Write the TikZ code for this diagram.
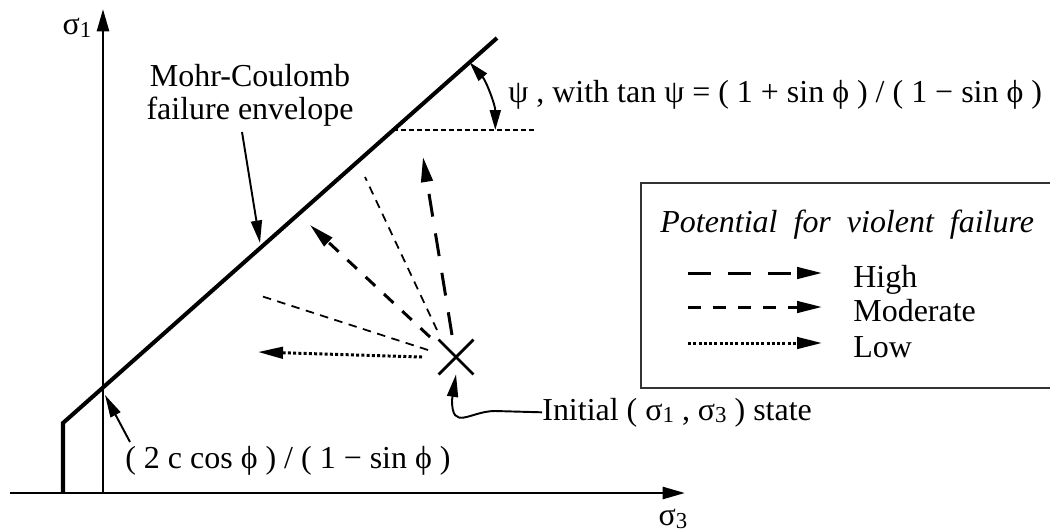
\documentclass[tikz,border=0pt]{standalone}
\usepackage{fontspec}
\setmainfont{Liberation Serif}
\usetikzlibrary{arrows.meta, positioning, calc, shapes.misc}
\newcommand\sgsub[1]{σ\raisebox{-0.2ex}{\fontsize{13}{13}\selectfont #1}}
\tikzset{
	axis/.style     ={line width=1.6pt, -{Triangle[length=4.5mm, width=2.4mm]}},
	envelope/.style ={line width=2.3pt, line join=miter},
	leader/.style   ={line width=1.1pt, -{Triangle[length=4.5mm, width=2.2mm]}},
	high/.style     ={line width=1.7pt, dash pattern=on 0.46cm off 0.34cm, -{Triangle[length=5mm, width=2.3mm]}},
	moderate/.style ={line width=1.7pt, dash pattern=on 0.26cm off 0.24cm, -{Triangle[length=5mm, width=2.3mm]}},
	low/.style      ={line width=1.7pt, dash pattern=on 0.06cm off 0.045cm, -{Triangle[length=5mm, width=2.3mm]}},
	guide/.style    ={line width=1pt, dash pattern=on 0.17cm off 0.13cm},
	level/.style    ={line width=0.6pt, dash pattern=on 0.09cm off 0.07cm},
	txt/.style      ={inner sep=0pt, font=\fontsize{18.2}{18.6}\selectfont},
}
\begin{document}
\begin{tikzpicture}[x=0.02cm, y=-0.02cm]
	\useasboundingbox (0,0) rectangle (1050,531);
	% axes
	\coordinate (xstart) at (10,493);
	\coordinate (xend) at (685,493);
	\coordinate (origin) at (103,493);
	\coordinate (yend) at (103,9);
	\draw[axis] (xstart) -- (xend);
	\draw[axis] (origin) -- (yend);
	\node[txt] (s1) at (77,28) {\sgsub{1}};
	\node[txt] (s3) at (673,519) {\sgsub{3}};
	% failure envelope
	\coordinate (foot) at (63,493);
	\coordinate (knee) at (63,423);
	\coordinate (top) at (497,38);
	\coordinate (apex) at (393.3,130);
	\coordinate (levelend) at (535,130);
	\draw[envelope] (foot) -- (knee) -- (top);
	\draw[level] (apex) -- (levelend);
	\draw[line width=1.1pt, {Triangle[length=4mm, width=2.2mm]}-{Triangle[length=4mm, width=2.2mm]}]
		($(apex)+(102,0)$) arc[start angle=0, end angle=41.6, radius=2.04cm];
	\node[txt, anchor=base west] (psi) at (508,102)
		{ψ , with tan ψ = ( 1 + sin ϕ ) / ( 1 − sin ϕ )};
	% labels of the envelope
	\node[txt, align=center] (mc) at (250,95) {Mohr-Coulomb\\failure envelope};
	\coordinate (mcfrom) at (242,132);
	\coordinate (mcto) at (260,243);
	\draw[leader] (mcfrom) -- (mcto);
	\node[txt, anchor=base west] (icept) at (125,468) {( 2 c cos ϕ ) / ( 1 − sin ϕ )};
	\coordinate (icfrom) at (130,442);
	\coordinate (icto) at (105,395);
	\draw[leader] (icfrom) -- (icto);
	% initial state and stress paths
	\node[cross out, draw, line width=1.6pt, minimum size=0.64cm, inner sep=0pt] (init) at (456,357) {};
	\coordinate (h1) at (452,335);
	\coordinate (h1e) at (423,157);
	\coordinate (m1) at (430,337);
	\coordinate (m1e) at (310,225);
	\coordinate (g1) at (437,330);
	\coordinate (g1e) at (365,177);
	\coordinate (g2) at (428,350);
	\coordinate (g2e) at (258,295);
	\coordinate (l1) at (422,357);
	\coordinate (l1e) at (258,352);
	\draw[high] (h1) -- (h1e);
	\draw[moderate] (m1) -- (m1e);
	\draw[guide] (g1) -- (g1e);
	\draw[guide] (g2) -- (g2e);
	\draw[low] (l1) -- (l1e);
	\node[txt, anchor=base west] (initlbl) at (542,420) {Initial ( \sgsub{1} , \sgsub{3} ) state};
	\draw[leader] (initlbl.west) -- (495,411) .. controls (470,411) and (452,432) .. (452,400) -- (init.south);
	% legend
	\draw[line width=0.9pt, black!80] (1052,183) -| (641,388) -- (1052,388);
	\node[txt, anchor=base west] (legtitle) at (660,232) {\itshape Potential\ \ for\ \ violent\ \ failure};
	\coordinate (hs) at (688,273);
	\coordinate (he) at (822,273);
	\coordinate (ms) at (688,307);
	\coordinate (me) at (822,307);
	\coordinate (ls) at (688,343);
	\coordinate (le) at (822,343);
	\draw[high] (hs) -- (he);
	\draw[moderate] (ms) -- (me);
	\draw[low] (ls) -- (le);
	\node[txt, anchor=base west] (lhigh) at (853,287) {High};
	\node[txt, anchor=base west] (lmod) at (853,321) {Moderate};
	\node[txt, anchor=base west] (llow) at (853,357) {Low};
\end{tikzpicture}
\end{document}
